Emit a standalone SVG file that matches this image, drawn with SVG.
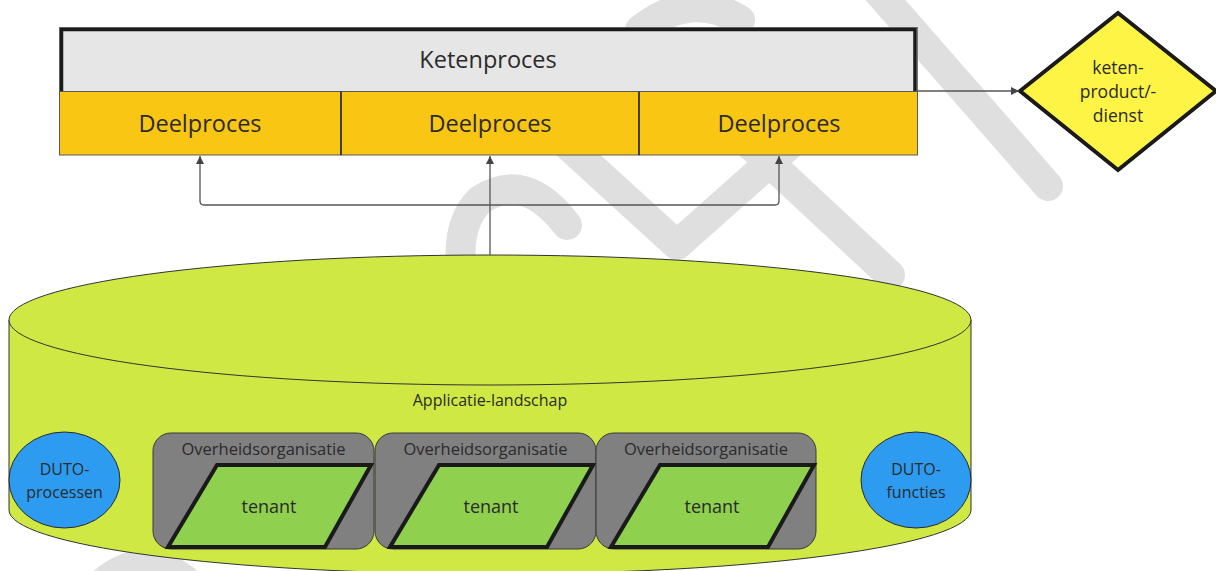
<svg xmlns="http://www.w3.org/2000/svg" width="1216" height="571" viewBox="0 0 1216 571">
<defs>
<style>
text{font-family:"Open Sans","Liberation Sans",sans-serif;fill:#2b2b2b;text-anchor:middle}
.wm{fill:none;stroke:#dfdfdf;stroke-width:30;stroke-linecap:round;stroke-linejoin:round}
.conn{fill:none;stroke:#555;stroke-width:1.3}
.cell{fill:#f9c613;stroke:#5a5a5a;stroke-width:1}
.org{fill:#808080;stroke:#3a3a3a;stroke-width:1}
.ten{fill:#8fd14f;stroke:#1a1a1a;stroke-width:4;stroke-linejoin:miter}
.duto{fill:#2d9bf0;stroke:#2a2a2a;stroke-width:1}
.big{font-size:23.5px}
.mid{font-size:17.5px}
.sm{font-size:16.5px}
.app{font-size:16px}
.dt{font-size:16px}
.tn{font-size:18px}
</style>
<marker id="arr" viewBox="0 0 10 10" refX="10" refY="5" markerWidth="8" markerHeight="8" markerUnits="userSpaceOnUse" orient="auto">
<path d="M0,0 L10,5 L0,10 z" fill="#444"/>
</marker>
</defs>
<rect width="1216" height="571" fill="#fff"/>
<g id="watermark">
<path class="wm" d="M868,-20 L1048,186"/>
<path class="wm" d="M540,120 L677,245 L840,100"/>
<path class="wm" d="M745,140 L890,275"/>
<path class="wm" d="M567,225 Q525,170 480,200 Q455,225 462,275"/>
<path class="wm" d="M640,30 Q690,-10 740,20"/>
<path class="wm" d="M95,590 Q140,545 185,580"/>
</g>
<g id="ketenproces">
<rect x="59.5" y="27.5" width="858" height="127" fill="#e6e6e6" stroke="#777" stroke-width="1"/>
<path d="M61.5,92 V29.5 H915 V92" fill="none" stroke="#1a1a1a" stroke-width="3.5"/>
<text class="big" x="488" y="68">Ketenproces</text>
</g>
<g id="deelproces1">
<rect class="cell" x="59.5" y="91.5" width="281.5" height="63.5"/>
<text class="big" x="200" y="132">Deelproces</text>
</g>
<g id="deelproces2">
<rect class="cell" x="341" y="91.5" width="298" height="63.5"/>
<text class="big" x="490" y="132">Deelproces</text>
</g>
<g id="deelproces3">
<rect class="cell" x="639" y="91.5" width="278.5" height="63.5"/>
<text class="big" x="779" y="132">Deelproces</text>
</g>
<path d="M341,91.5 V155 M639,91.5 V155" stroke="#2a2a2a" stroke-width="1.5"/>
<g id="product">
<polygon points="1020,91 1118,13 1216,91 1118,170" fill="#fef445" stroke="#1a1a1a" stroke-width="4"/>
<text class="mid" x="1118" y="74">keten-</text>
<text class="mid" x="1118" y="98">product/-</text>
<text class="mid" x="1118" y="122">dienst</text>
</g>
<g id="applicatielandschap">
<path d="M9,320 V510 A481,64 0 0 0 971,510 V320 Z" fill="#cfe843" stroke="#333" stroke-width="1"/>
<ellipse cx="490" cy="320" rx="481" ry="65" fill="#cfe843" stroke="#333" stroke-width="1"/>
<text class="app" x="490" y="406">Applicatie-landschap</text>
</g>
<g id="duto-processen">
<ellipse class="duto" cx="64.5" cy="480" rx="55.5" ry="48"/>
<text class="dt" x="64.5" y="475">DUTO-</text>
<text class="dt" x="64.5" y="498">processen</text>
</g>
<g id="duto-functies">
<ellipse class="duto" cx="916" cy="480" rx="55" ry="48"/>
<text class="dt" x="916" y="475">DUTO-</text>
<text class="dt" x="916" y="498">functies</text>
</g>
<g id="org1">
<rect class="org" x="153" y="433" width="221" height="116" rx="18"/>
<text class="sm" x="263.5" y="455">Overheidsorganisatie</text>
<polygon class="ten" points="217,465 371,465 325,547 168,547"/>
<text class="tn" x="269" y="513">tenant</text>
</g>
<g id="org2">
<rect class="org" x="375" y="433" width="221" height="116" rx="18"/>
<text class="sm" x="485.5" y="455">Overheidsorganisatie</text>
<polygon class="ten" points="439,465 593,465 547,547 390,547"/>
<text class="tn" x="491" y="513">tenant</text>
</g>
<g id="org3">
<rect class="org" x="596" y="433" width="220" height="116" rx="18"/>
<text class="sm" x="706" y="455">Overheidsorganisatie</text>
<polygon class="ten" points="660,465 814,465 768,547 611,547"/>
<text class="tn" x="712" y="513">tenant</text>
</g>
<g id="connectors">
<path class="conn" d="M917,91 H1019" marker-end="url(#arr)"/>
<path class="conn" d="M490,255 V156" marker-end="url(#arr)"/>
<path class="conn" d="M490,205 H204 Q200,205 200,201 V156" marker-end="url(#arr)"/>
<path class="conn" d="M490,205 H775 Q779,205 779,201 V156" marker-end="url(#arr)"/>
</g>
</svg>
